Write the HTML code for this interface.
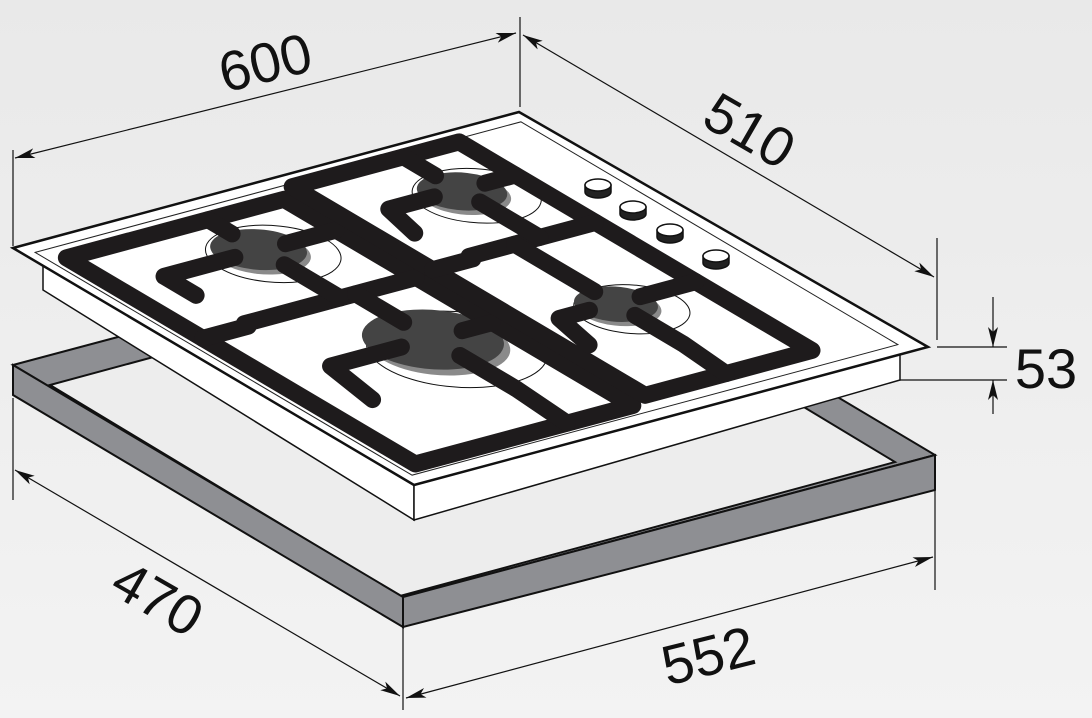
<!DOCTYPE html>
<html><head><meta charset="utf-8">
<style>
html,body{margin:0;padding:0;}
body{width:1092px;height:718px;overflow:hidden;background:#ececec;}
svg{display:block}
text{font-family:"Liberation Sans",sans-serif;fill:#111;}
</style></head><body>
<svg width="1092" height="718" viewBox="0 0 1092 718" xmlns="http://www.w3.org/2000/svg">
<defs>
<linearGradient id="bg" x1="0" y1="0" x2="0" y2="1">
<stop offset="0" stop-color="#e9e9e9"/><stop offset="1" stop-color="#f3f3f3"/>
</linearGradient>
<marker id="ar" viewBox="0 0 20 10" refX="20" refY="5" markerWidth="20" markerHeight="10" markerUnits="userSpaceOnUse" orient="auto-start-reverse">
<path d="M0,0 L20,5 L0,10 L5,5 Z" fill="#111"/>
</marker>
</defs>
<rect width="1092" height="718" fill="url(#bg)"/>

<!-- Cutout frame -->
<polygon points="13,365 545,223 935,455 403,597" fill="#8e8f93" stroke="#111" stroke-width="2"/>
<polygon points="50,385 545,251 895,462 400,596" fill="#ededed" stroke="#111" stroke-width="2"/>
<polygon points="13,365 403,597 403,627 13,395" fill="#8e8f93" stroke="#111" stroke-width="2"/>
<polygon points="403,597 935,455 935,490 403,627" fill="#8e8f93" stroke="#111" stroke-width="2"/>

<!-- Hob body -->
<polygon points="43,258 414,484 414,520 43,290" fill="#fff" stroke="#111" stroke-width="1.5"/>
<polygon points="414,484 900,350 900,380 414,520" fill="#fff" stroke="#111" stroke-width="1.5"/>
<!-- Plate -->
<polygon points="13,248 519,112 928,347 414,485" fill="#fff" stroke="#111" stroke-width="2.5"/>

<g transform="matrix(5.06,-1.36,4.01,2.37,13,248)">
<polygon points="2,3 98,3 98,97 2,97" fill="none" stroke="#222" stroke-width="1" vector-effect="non-scaling-stroke"/>
<!-- burners -->
<g stroke="#111" stroke-width="1" vector-effect="non-scaling-stroke">
<circle cx="34" cy="22" r="10.5" fill="#fff" vector-effect="non-scaling-stroke"/>
<circle cx="37" cy="64" r="14" fill="#fff" vector-effect="non-scaling-stroke"/>
<circle cx="75" cy="21" r="10" fill="#fff" vector-effect="non-scaling-stroke"/>
<circle cx="70" cy="66" r="9" fill="#fff" vector-effect="non-scaling-stroke"/>
</g>
<circle cx="32.5" cy="21.2" r="7.5" fill="#8a8a8a"/>
<circle cx="33" cy="19.6" r="7.5" fill="#444"/>
<circle cx="35.5" cy="61.5" r="11" fill="#8a8a8a"/>
<circle cx="36" cy="59.3" r="11" fill="#444"/>
<circle cx="73.5" cy="20.2" r="7" fill="#8a8a8a"/>
<circle cx="74" cy="18.6" r="7" fill="#444"/>
<circle cx="68.5" cy="64.8" r="6.5" fill="#8a8a8a"/>
<circle cx="69" cy="63.3" r="6.5" fill="#444"/>

<!-- grates -->
<g fill="none" stroke="#1e1b1c" stroke-width="17" stroke-linecap="round" stroke-linejoin="round" vector-effect="non-scaling-stroke">
<polygon points="5,7 48,7 48,94 5,94" vector-effect="non-scaling-stroke"/>
<polyline points="5,41 14,41 14,40 48,40" vector-effect="non-scaling-stroke"/>
<polyline points="33,7 33,13" vector-effect="non-scaling-stroke"/>
<polyline points="38,20 48,20" vector-effect="non-scaling-stroke"/>
<polyline points="28,20 14,20 14,28" vector-effect="non-scaling-stroke"/>
<polyline points="33,26 33,40" vector-effect="non-scaling-stroke"/>
<polyline points="36,40 36,52" vector-effect="non-scaling-stroke"/>
<polyline points="42,59 48,59" vector-effect="non-scaling-stroke"/>
<polyline points="30,59 16,59 14,72" vector-effect="non-scaling-stroke"/>
<polyline points="36,66 36,80 35,94" vector-effect="non-scaling-stroke"/>

<polygon points="52,4 85,4 85,92 52,92" vector-effect="non-scaling-stroke"/>
<polyline points="52,39 60,39 60,38 85,38" vector-effect="non-scaling-stroke"/>
<polyline points="74,4 74,12" vector-effect="non-scaling-stroke"/>
<polyline points="79,18 85,18" vector-effect="non-scaling-stroke"/>
<polyline points="69,18 60,18 58,27" vector-effect="non-scaling-stroke"/>
<polyline points="74,23 74,38" vector-effect="non-scaling-stroke"/>
<polyline points="69,38 69,58" vector-effect="non-scaling-stroke"/>
<polyline points="74,63 85,63" vector-effect="non-scaling-stroke"/>
<polyline points="64,63 58,63 56,73" vector-effect="non-scaling-stroke"/>
<polyline points="69,68 69,80 68,92" vector-effect="non-scaling-stroke"/>
</g>
</g>

<!-- knobs -->
<g stroke="#111" stroke-width="1.5">
<path d="M585,185 L585,192 A13,6 0 0 0 611,192 L611,185 Z" fill="#222"/><ellipse cx="598" cy="185" rx="13" ry="6" fill="#fff"/>
<path d="M620,207 L620,214 A13,6 0 0 0 646,214 L646,207 Z" fill="#222"/><ellipse cx="633" cy="207" rx="13" ry="6" fill="#fff"/>
<path d="M657,230 L657,237 A13,6 0 0 0 683,237 L683,230 Z" fill="#222"/><ellipse cx="670" cy="230" rx="13" ry="6" fill="#fff"/>
<path d="M703,256 L703,263 A13,6 0 0 0 729,263 L729,256 Z" fill="#222"/><ellipse cx="716" cy="256" rx="13" ry="6" fill="#fff"/>
</g>

<!-- dimension lines -->
<g stroke="#111" stroke-width="1.2" fill="none">
<line x1="13" y1="150" x2="13" y2="246"/>
<line x1="520" y1="17" x2="520" y2="107"/>
<line x1="15" y1="158" x2="516" y2="33" marker-start="url(#ar)" marker-end="url(#ar)"/>
<line x1="523" y1="35" x2="934" y2="277" marker-start="url(#ar)" marker-end="url(#ar)"/>
<line x1="937" y1="238" x2="937" y2="340"/>
<line x1="937" y1="347" x2="1007" y2="347"/>
<line x1="900" y1="380" x2="1007" y2="380"/>
<line x1="993" y1="297" x2="993" y2="347" marker-end="url(#ar)"/>
<line x1="993" y1="414" x2="993" y2="380" marker-end="url(#ar)"/>
<line x1="13" y1="398" x2="13" y2="500"/>
<line x1="403" y1="628" x2="403" y2="710"/>
<line x1="935" y1="491" x2="935" y2="590"/>
<line x1="15" y1="470" x2="400" y2="696" marker-start="url(#ar)" marker-end="url(#ar)"/>
<line x1="406" y1="698" x2="933" y2="557" marker-start="url(#ar)" marker-end="url(#ar)"/>
</g>

<text x="265" y="82" font-size="56" text-anchor="middle" transform="rotate(-14 265 62)">600</text>
<text x="750" y="150" font-size="56" text-anchor="middle" transform="rotate(30 750 130)">510</text>
<text x="1046" y="388" font-size="56" text-anchor="middle">53</text>
<text x="158" y="618" font-size="56" text-anchor="middle" transform="rotate(30 158 598)">470</text>
<text x="708" y="675" font-size="56" text-anchor="middle" transform="rotate(-14 708 655)">552</text>
</svg>
</body></html>
